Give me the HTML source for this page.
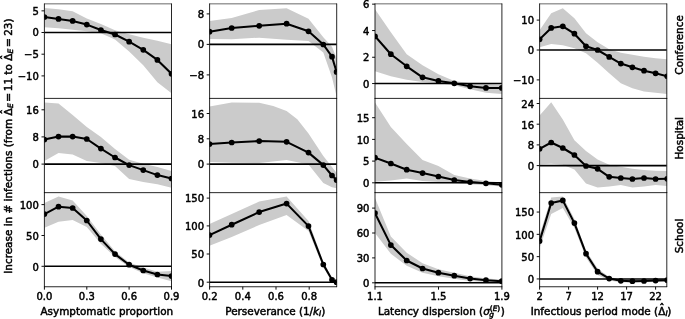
<!DOCTYPE html>
<html><head><meta charset="utf-8"><title>Figure</title>
<style>html,body{margin:0;padding:0;background:#fff}svg{display:block}text{stroke:#000;stroke-width:0.48px}</style>
</head><body>
<svg width="685" height="319" viewBox="0 0 685 319" font-family="'DejaVu Sans','Liberation Sans',sans-serif" font-size="10" fill="#000">
<rect width="685" height="319" fill="#fff"/>
<defs>
<clipPath id="c00"><rect x="44.4" y="3.85" width="127.1" height="94.55"/></clipPath>
<clipPath id="c01"><rect x="209.6" y="3.85" width="127.1" height="94.55"/></clipPath>
<clipPath id="c02"><rect x="375" y="3.85" width="126.9" height="94.55"/></clipPath>
<clipPath id="c03"><rect x="539.6" y="3.85" width="127.2" height="94.55"/></clipPath>
<clipPath id="c10"><rect x="44.4" y="98.4" width="127.1" height="94.25"/></clipPath>
<clipPath id="c11"><rect x="209.6" y="98.4" width="127.1" height="94.25"/></clipPath>
<clipPath id="c12"><rect x="375" y="98.4" width="126.9" height="94.25"/></clipPath>
<clipPath id="c13"><rect x="539.6" y="98.4" width="127.2" height="94.25"/></clipPath>
<clipPath id="c20"><rect x="44.4" y="192.65" width="127.1" height="94.1"/></clipPath>
<clipPath id="c21"><rect x="209.6" y="192.65" width="127.1" height="94.1"/></clipPath>
<clipPath id="c22"><rect x="375" y="192.65" width="126.9" height="94.1"/></clipPath>
<clipPath id="c23"><rect x="539.6" y="192.65" width="127.2" height="94.1"/></clipPath>
</defs>
<g clip-path="url(#c00)">
<polygon fill="#cbcbcb" points="44.4,8 58.52,9.3 72.64,11.2 86.77,18.4 100.89,23.9 115.01,30.2 129.13,34.3 143.25,37.7 157.38,40.8 171.5,44.3 171.5,93.3 157.38,82.3 143.25,65.2 129.13,51.5 115.01,39.6 100.89,33.3 86.77,31.2 72.64,29.7 58.52,28.2 44.4,27.2"/>
<line x1="44.4" x2="171.5" y1="32.5" y2="32.5" stroke="#000" stroke-width="1.6"/>
<polyline fill="none" stroke="#000" stroke-width="2.05" stroke-linejoin="round" points="44.4,17 58.52,18.9 72.64,20.9 86.77,24.6 100.89,30 115.01,34.5 129.13,41.7 143.25,49.8 157.38,59.9 171.5,73.8"/>
<circle cx="44.4" cy="17" r="2.85"/>
<circle cx="58.52" cy="18.9" r="2.85"/>
<circle cx="72.64" cy="20.9" r="2.85"/>
<circle cx="86.77" cy="24.6" r="2.85"/>
<circle cx="100.89" cy="30" r="2.85"/>
<circle cx="115.01" cy="34.5" r="2.85"/>
<circle cx="129.13" cy="41.7" r="2.85"/>
<circle cx="143.25" cy="49.8" r="2.85"/>
<circle cx="157.38" cy="59.9" r="2.85"/>
<circle cx="171.5" cy="73.8" r="2.85"/>
</g>
<line x1="44.4" x2="44.4" y1="3.55" y2="98.7" stroke="#000" stroke-width="0.85"/>
<line x1="171.5" x2="171.5" y1="3.55" y2="98.7" stroke="#000" stroke-width="0.85"/>
<line x1="44.1" x2="171.8" y1="3.85" y2="3.85" stroke="#000" stroke-width="0.6"/>
<line x1="44.1" x2="171.8" y1="98.4" y2="98.4" stroke="#000" stroke-width="0.85"/>
<line x1="41.5" x2="44.4" y1="10.85" y2="10.85" stroke="#000" stroke-width="0.95"/>
<text x="38.8" y="14.65" text-anchor="end">5</text>
<line x1="41.5" x2="44.4" y1="32.5" y2="32.5" stroke="#000" stroke-width="0.95"/>
<text x="38.8" y="36.3" text-anchor="end">0</text>
<line x1="41.5" x2="44.4" y1="54.2" y2="54.2" stroke="#000" stroke-width="0.95"/>
<text x="38.8" y="58" text-anchor="end">−5</text>
<line x1="41.5" x2="44.4" y1="75.9" y2="75.9" stroke="#000" stroke-width="0.95"/>
<text x="38.8" y="79.7" text-anchor="end">−10</text>
<g clip-path="url(#c01)">
<polygon fill="#cbcbcb" points="209.5,21 231.7,18 259.2,10 286.6,8.2 308.5,18.7 323.3,37.2 332,46.8 336.6,58.4 336.6,96.4 332,77.4 323.3,52.6 308.5,40.9 286.6,39.8 259.2,37.7 231.7,39.2 209.5,39"/>
<line x1="209.6" x2="336.7" y1="44.4" y2="44.4" stroke="#000" stroke-width="1.6"/>
<polyline fill="none" stroke="#000" stroke-width="2.05" stroke-linejoin="round" points="209.5,31.7 231.7,28 259.2,25.8 286.6,23.7 308.5,31.3 323.3,44.5 332,56.7 336.6,71.9"/>
<circle cx="209.5" cy="31.7" r="2.85"/>
<circle cx="231.7" cy="28" r="2.85"/>
<circle cx="259.2" cy="25.8" r="2.85"/>
<circle cx="286.6" cy="23.7" r="2.85"/>
<circle cx="308.5" cy="31.3" r="2.85"/>
<circle cx="323.3" cy="44.5" r="2.85"/>
<circle cx="332" cy="56.7" r="2.85"/>
<circle cx="336.6" cy="71.9" r="2.85"/>
</g>
<line x1="209.6" x2="209.6" y1="3.55" y2="98.7" stroke="#000" stroke-width="0.85"/>
<line x1="336.7" x2="336.7" y1="3.55" y2="98.7" stroke="#000" stroke-width="0.85"/>
<line x1="209.3" x2="337" y1="3.85" y2="3.85" stroke="#000" stroke-width="0.6"/>
<line x1="209.3" x2="337" y1="98.4" y2="98.4" stroke="#000" stroke-width="0.85"/>
<line x1="206.7" x2="209.6" y1="13.9" y2="13.9" stroke="#000" stroke-width="0.95"/>
<text x="204" y="17.9" text-anchor="end">8</text>
<line x1="206.7" x2="209.6" y1="44.4" y2="44.4" stroke="#000" stroke-width="0.95"/>
<text x="204" y="48.4" text-anchor="end">0</text>
<line x1="206.7" x2="209.6" y1="74.9" y2="74.9" stroke="#000" stroke-width="0.95"/>
<text x="204" y="78.9" text-anchor="end">−8</text>
<g clip-path="url(#c02)">
<polygon fill="#cbcbcb" points="375,9.2 390.85,32.3 406.7,54.2 422.55,65.3 438.4,74.3 454.25,80.9 470.1,83.3 485.95,83.9 501.8,84.7 501.8,94 485.95,92.8 470.1,89.3 454.25,85.3 438.4,83.3 422.55,81.9 406.7,79.7 390.85,76.3 375,71.3"/>
<line x1="375" x2="501.9" y1="83.55" y2="83.55" stroke="#000" stroke-width="1.6"/>
<polyline fill="none" stroke="#000" stroke-width="2.05" stroke-linejoin="round" points="375,36.3 390.85,54.2 406.7,66.3 422.55,77.3 438.4,80.9 454.25,83.3 470.1,86.3 485.95,87.9 501.8,87.9"/>
<circle cx="375" cy="36.3" r="2.85"/>
<circle cx="390.85" cy="54.2" r="2.85"/>
<circle cx="406.7" cy="66.3" r="2.85"/>
<circle cx="422.55" cy="77.3" r="2.85"/>
<circle cx="438.4" cy="80.9" r="2.85"/>
<circle cx="454.25" cy="83.3" r="2.85"/>
<circle cx="470.1" cy="86.3" r="2.85"/>
<circle cx="485.95" cy="87.9" r="2.85"/>
<circle cx="501.8" cy="87.9" r="2.85"/>
</g>
<line x1="375" x2="375" y1="3.55" y2="98.7" stroke="#000" stroke-width="0.85"/>
<line x1="501.9" x2="501.9" y1="3.55" y2="98.7" stroke="#000" stroke-width="0.85"/>
<line x1="374.7" x2="502.2" y1="3.85" y2="3.85" stroke="#000" stroke-width="0.6"/>
<line x1="374.7" x2="502.2" y1="98.4" y2="98.4" stroke="#000" stroke-width="0.85"/>
<line x1="372.1" x2="375" y1="4.15" y2="4.15" stroke="#000" stroke-width="0.95"/>
<text x="369.4" y="8.15" text-anchor="end">6</text>
<line x1="372.1" x2="375" y1="30.55" y2="30.55" stroke="#000" stroke-width="0.95"/>
<text x="369.4" y="34.55" text-anchor="end">4</text>
<line x1="372.1" x2="375" y1="57.25" y2="57.25" stroke="#000" stroke-width="0.95"/>
<text x="369.4" y="61.25" text-anchor="end">2</text>
<line x1="372.1" x2="375" y1="83.55" y2="83.55" stroke="#000" stroke-width="0.95"/>
<text x="369.4" y="87.55" text-anchor="end">0</text>
<g clip-path="url(#c03)">
<polygon fill="#cbcbcb" points="539.6,30.3 551.2,13.2 562.8,8.2 574.4,18.3 586,33.3 597.6,42.3 609.2,49.2 620.8,52.7 632.4,54.7 644,56.7 655.6,58.3 667.2,59.3 667.2,94 655.6,92.8 644,91.4 632.4,88.3 620.8,83.3 609.2,73.3 597.6,62.8 586,53.3 574.4,48.3 562.8,45.3 551.2,43.9 539.6,47.3"/>
<line x1="539.6" x2="666.8" y1="50" y2="50" stroke="#000" stroke-width="1.6"/>
<polyline fill="none" stroke="#000" stroke-width="2.05" stroke-linejoin="round" points="539.6,39.3 551.2,27.9 562.8,26.3 574.4,33.7 586,46.3 597.6,50 609.2,56.9 620.8,63.6 632.4,67.3 644,70.7 655.6,73.3 667.2,76.3"/>
<circle cx="539.6" cy="39.3" r="2.85"/>
<circle cx="551.2" cy="27.9" r="2.85"/>
<circle cx="562.8" cy="26.3" r="2.85"/>
<circle cx="574.4" cy="33.7" r="2.85"/>
<circle cx="586" cy="46.3" r="2.85"/>
<circle cx="597.6" cy="50" r="2.85"/>
<circle cx="609.2" cy="56.9" r="2.85"/>
<circle cx="620.8" cy="63.6" r="2.85"/>
<circle cx="632.4" cy="67.3" r="2.85"/>
<circle cx="644" cy="70.7" r="2.85"/>
<circle cx="655.6" cy="73.3" r="2.85"/>
<circle cx="667.2" cy="76.3" r="2.85"/>
</g>
<line x1="539.6" x2="539.6" y1="3.55" y2="98.7" stroke="#000" stroke-width="0.85"/>
<line x1="666.8" x2="666.8" y1="3.55" y2="98.7" stroke="#000" stroke-width="0.85"/>
<line x1="539.3" x2="667.1" y1="3.85" y2="3.85" stroke="#000" stroke-width="0.6"/>
<line x1="539.3" x2="667.1" y1="98.4" y2="98.4" stroke="#000" stroke-width="0.85"/>
<line x1="536.7" x2="539.6" y1="20.1" y2="20.1" stroke="#000" stroke-width="0.95"/>
<text x="534" y="24.1" text-anchor="end">10</text>
<line x1="536.7" x2="539.6" y1="50" y2="50" stroke="#000" stroke-width="0.95"/>
<text x="534" y="54" text-anchor="end">0</text>
<line x1="536.7" x2="539.6" y1="79.9" y2="79.9" stroke="#000" stroke-width="0.95"/>
<text x="534" y="83.9" text-anchor="end">−10</text>
<g clip-path="url(#c10)">
<polygon fill="#cbcbcb" points="44.4,102.4 58.52,103.6 72.64,115.1 86.77,127.1 100.89,137 115.01,149.1 129.13,159.7 143.25,163.7 157.38,167.1 171.5,171.1 171.5,187.8 157.38,184.2 143.25,182.1 129.13,179.1 115.01,166.1 100.89,163.1 86.77,161.1 72.64,154.6 58.52,153.1 44.4,161.1"/>
<line x1="44.4" x2="171.5" y1="164.1" y2="164.1" stroke="#000" stroke-width="1.6"/>
<polyline fill="none" stroke="#000" stroke-width="2.05" stroke-linejoin="round" points="44.4,139.6 58.52,136.6 72.64,136.6 86.77,139 100.89,148.6 115.01,157.5 129.13,165.1 143.25,170.1 157.38,175.1 171.5,178.5"/>
<circle cx="44.4" cy="139.6" r="2.85"/>
<circle cx="58.52" cy="136.6" r="2.85"/>
<circle cx="72.64" cy="136.6" r="2.85"/>
<circle cx="86.77" cy="139" r="2.85"/>
<circle cx="100.89" cy="148.6" r="2.85"/>
<circle cx="115.01" cy="157.5" r="2.85"/>
<circle cx="129.13" cy="165.1" r="2.85"/>
<circle cx="143.25" cy="170.1" r="2.85"/>
<circle cx="157.38" cy="175.1" r="2.85"/>
<circle cx="171.5" cy="178.5" r="2.85"/>
</g>
<line x1="44.4" x2="44.4" y1="98.1" y2="192.95" stroke="#000" stroke-width="0.85"/>
<line x1="171.5" x2="171.5" y1="98.1" y2="192.95" stroke="#000" stroke-width="0.85"/>
<line x1="44.1" x2="171.8" y1="192.65" y2="192.65" stroke="#000" stroke-width="0.85"/>
<line x1="41.5" x2="44.4" y1="109.8" y2="109.8" stroke="#000" stroke-width="0.95"/>
<text x="38.8" y="114.1" text-anchor="end">16</text>
<line x1="41.5" x2="44.4" y1="136.9" y2="136.9" stroke="#000" stroke-width="0.95"/>
<text x="38.8" y="141.2" text-anchor="end">8</text>
<line x1="41.5" x2="44.4" y1="164.1" y2="164.1" stroke="#000" stroke-width="0.95"/>
<text x="38.8" y="168.4" text-anchor="end">0</text>
<g clip-path="url(#c11)">
<polygon fill="#cbcbcb" points="209.5,106.4 231.7,102.4 259.2,102.8 273.2,106 286.6,111.1 297.3,119.3 308.5,133.5 323.3,156.1 332,167.1 336.6,173.1 336.6,188.2 332,187.2 323.3,183.1 308.5,164.5 286.6,160.1 259.2,163.1 231.7,162.7 209.5,162.1"/>
<line x1="209.6" x2="336.7" y1="164.1" y2="164.1" stroke="#000" stroke-width="1.6"/>
<polyline fill="none" stroke="#000" stroke-width="2.05" stroke-linejoin="round" points="209.5,144.1 231.7,142.5 259.2,141.1 286.6,141.8 308.5,152.6 323.3,165.1 332,175.5 336.6,180.1"/>
<circle cx="209.5" cy="144.1" r="2.85"/>
<circle cx="231.7" cy="142.5" r="2.85"/>
<circle cx="259.2" cy="141.1" r="2.85"/>
<circle cx="286.6" cy="141.8" r="2.85"/>
<circle cx="308.5" cy="152.6" r="2.85"/>
<circle cx="323.3" cy="165.1" r="2.85"/>
<circle cx="332" cy="175.5" r="2.85"/>
<circle cx="336.6" cy="180.1" r="2.85"/>
</g>
<line x1="209.6" x2="209.6" y1="98.1" y2="192.95" stroke="#000" stroke-width="0.85"/>
<line x1="336.7" x2="336.7" y1="98.1" y2="192.95" stroke="#000" stroke-width="0.85"/>
<line x1="209.3" x2="337" y1="192.65" y2="192.65" stroke="#000" stroke-width="0.85"/>
<line x1="206.7" x2="209.6" y1="113.5" y2="113.5" stroke="#000" stroke-width="0.95"/>
<text x="204" y="117.8" text-anchor="end">16</text>
<line x1="206.7" x2="209.6" y1="138.8" y2="138.8" stroke="#000" stroke-width="0.95"/>
<text x="204" y="143.1" text-anchor="end">8</text>
<line x1="206.7" x2="209.6" y1="164.1" y2="164.1" stroke="#000" stroke-width="0.95"/>
<text x="204" y="168.4" text-anchor="end">0</text>
<g clip-path="url(#c12)">
<polygon fill="#cbcbcb" points="375,102.4 390.85,127.1 406.7,144.1 422.55,160.1 438.4,166.1 454.25,175.1 470.1,178.5 485.95,181.1 501.8,182.5 501.8,186.6 485.95,185.2 470.1,184.2 454.25,183.1 438.4,182.1 422.55,181.1 406.7,178.5 390.85,180.5 375,181.7"/>
<line x1="375" x2="501.9" y1="182.8" y2="182.8" stroke="#000" stroke-width="1.6"/>
<polyline fill="none" stroke="#000" stroke-width="2.05" stroke-linejoin="round" points="375,157.7 390.85,163.5 406.7,169.7 422.55,173.1 438.4,176.5 454.25,180.1 470.1,182.1 485.95,183.3 501.8,184.8"/>
<circle cx="375" cy="157.7" r="2.85"/>
<circle cx="390.85" cy="163.5" r="2.85"/>
<circle cx="406.7" cy="169.7" r="2.85"/>
<circle cx="422.55" cy="173.1" r="2.85"/>
<circle cx="438.4" cy="176.5" r="2.85"/>
<circle cx="454.25" cy="180.1" r="2.85"/>
<circle cx="470.1" cy="182.1" r="2.85"/>
<circle cx="485.95" cy="183.3" r="2.85"/>
<circle cx="501.8" cy="184.8" r="2.85"/>
</g>
<line x1="375" x2="375" y1="98.1" y2="192.95" stroke="#000" stroke-width="0.85"/>
<line x1="501.9" x2="501.9" y1="98.1" y2="192.95" stroke="#000" stroke-width="0.85"/>
<line x1="374.7" x2="502.2" y1="192.65" y2="192.65" stroke="#000" stroke-width="0.85"/>
<line x1="372.1" x2="375" y1="117.7" y2="117.7" stroke="#000" stroke-width="0.95"/>
<text x="369.4" y="122" text-anchor="end">15</text>
<line x1="372.1" x2="375" y1="139.4" y2="139.4" stroke="#000" stroke-width="0.95"/>
<text x="369.4" y="143.7" text-anchor="end">10</text>
<line x1="372.1" x2="375" y1="161.1" y2="161.1" stroke="#000" stroke-width="0.95"/>
<text x="369.4" y="165.4" text-anchor="end">5</text>
<line x1="372.1" x2="375" y1="182.8" y2="182.8" stroke="#000" stroke-width="0.95"/>
<text x="369.4" y="187.1" text-anchor="end">0</text>
<g clip-path="url(#c13)">
<polygon fill="#cbcbcb" points="539.6,115.4 551.2,102.3 562.8,119.4 574.4,140.3 586,151 597.6,159.4 609.2,164.8 620.8,166.8 632.4,168.8 644,170 655.6,170.8 667.2,171 667.2,185.9 655.6,184.9 644,186.5 632.4,187.5 620.8,184.9 609.2,186.5 597.6,187.5 586,183.4 574.4,169.4 562.8,164.8 551.2,163.8 539.6,164.3"/>
<line x1="539.6" x2="666.8" y1="165.6" y2="165.6" stroke="#000" stroke-width="1.6"/>
<polyline fill="none" stroke="#000" stroke-width="2.05" stroke-linejoin="round" points="539.6,148.8 551.2,142.5 562.8,148 574.4,155 586,166 597.6,168.8 609.2,176.8 620.8,178 632.4,179 644,178 655.6,179 667.2,178.8"/>
<circle cx="539.6" cy="148.8" r="2.85"/>
<circle cx="551.2" cy="142.5" r="2.85"/>
<circle cx="562.8" cy="148" r="2.85"/>
<circle cx="574.4" cy="155" r="2.85"/>
<circle cx="586" cy="166" r="2.85"/>
<circle cx="597.6" cy="168.8" r="2.85"/>
<circle cx="609.2" cy="176.8" r="2.85"/>
<circle cx="620.8" cy="178" r="2.85"/>
<circle cx="632.4" cy="179" r="2.85"/>
<circle cx="644" cy="178" r="2.85"/>
<circle cx="655.6" cy="179" r="2.85"/>
<circle cx="667.2" cy="178.8" r="2.85"/>
</g>
<line x1="539.6" x2="539.6" y1="98.1" y2="192.95" stroke="#000" stroke-width="0.85"/>
<line x1="666.8" x2="666.8" y1="98.1" y2="192.95" stroke="#000" stroke-width="0.85"/>
<line x1="539.3" x2="667.1" y1="192.65" y2="192.65" stroke="#000" stroke-width="0.85"/>
<line x1="536.7" x2="539.6" y1="103.5" y2="103.5" stroke="#000" stroke-width="0.95"/>
<text x="534" y="107.8" text-anchor="end">24</text>
<line x1="536.7" x2="539.6" y1="124.2" y2="124.2" stroke="#000" stroke-width="0.95"/>
<text x="534" y="128.5" text-anchor="end">16</text>
<line x1="536.7" x2="539.6" y1="144.9" y2="144.9" stroke="#000" stroke-width="0.95"/>
<text x="534" y="149.2" text-anchor="end">8</text>
<line x1="536.7" x2="539.6" y1="165.6" y2="165.6" stroke="#000" stroke-width="0.95"/>
<text x="534" y="169.9" text-anchor="end">0</text>
<g clip-path="url(#c20)">
<polygon fill="#cbcbcb" points="44.4,203 58.52,196.4 72.64,200.4 86.77,216.1 100.89,234.6 115.01,251.3 129.13,262.5 143.25,267.6 157.38,271.8 171.5,271.1 171.5,281.2 157.38,277.6 143.25,273.2 129.13,267 115.01,257 100.89,243.8 86.77,227.1 72.64,220.1 58.52,221.7 44.4,227.7"/>
<line x1="44.4" x2="171.5" y1="266.3" y2="266.3" stroke="#000" stroke-width="1.6"/>
<polyline fill="none" stroke="#000" stroke-width="2.05" stroke-linejoin="round" points="44.4,214.1 58.52,206.7 72.64,208 86.77,220.5 100.89,239.1 115.01,254.1 129.13,264.7 143.25,270.5 157.38,274.5 171.5,276.1"/>
<circle cx="44.4" cy="214.1" r="2.85"/>
<circle cx="58.52" cy="206.7" r="2.85"/>
<circle cx="72.64" cy="208" r="2.85"/>
<circle cx="86.77" cy="220.5" r="2.85"/>
<circle cx="100.89" cy="239.1" r="2.85"/>
<circle cx="115.01" cy="254.1" r="2.85"/>
<circle cx="129.13" cy="264.7" r="2.85"/>
<circle cx="143.25" cy="270.5" r="2.85"/>
<circle cx="157.38" cy="274.5" r="2.85"/>
<circle cx="171.5" cy="276.1" r="2.85"/>
</g>
<line x1="44.4" x2="44.4" y1="192.35" y2="287.05" stroke="#000" stroke-width="0.85"/>
<line x1="171.5" x2="171.5" y1="192.35" y2="287.05" stroke="#000" stroke-width="0.85"/>
<line x1="44.1" x2="171.8" y1="286.75" y2="286.75" stroke="#000" stroke-width="0.85"/>
<line x1="41.5" x2="44.4" y1="204.6" y2="204.6" stroke="#000" stroke-width="0.95"/>
<text x="38.8" y="208.9" text-anchor="end">100</text>
<line x1="41.5" x2="44.4" y1="235.5" y2="235.5" stroke="#000" stroke-width="0.95"/>
<text x="38.8" y="239.8" text-anchor="end">50</text>
<line x1="41.5" x2="44.4" y1="266.3" y2="266.3" stroke="#000" stroke-width="0.95"/>
<text x="38.8" y="270.6" text-anchor="end">0</text>
<line x1="44.4" x2="44.4" y1="286.75" y2="289.65" stroke="#000" stroke-width="0.95"/>
<text x="44.4" y="299.6" text-anchor="middle">0.0</text>
<line x1="86.8" x2="86.8" y1="286.75" y2="289.65" stroke="#000" stroke-width="0.95"/>
<text x="86.8" y="299.6" text-anchor="middle">0.3</text>
<line x1="129.1" x2="129.1" y1="286.75" y2="289.65" stroke="#000" stroke-width="0.95"/>
<text x="129.1" y="299.6" text-anchor="middle">0.6</text>
<line x1="171.5" x2="171.5" y1="286.75" y2="289.65" stroke="#000" stroke-width="0.95"/>
<text x="171.5" y="299.6" text-anchor="middle">0.9</text>
<g clip-path="url(#c21)">
<polygon fill="#cbcbcb" points="209.5,224.1 231.7,214.1 259.2,201.6 286.6,196.4 308.5,221.1 323.3,261.5 332,278 336.6,281.5 336.6,283 332,281.5 323.3,267.5 308.5,231.1 286.6,215.1 259.2,225.1 231.7,237.1 209.5,245.8"/>
<line x1="209.6" x2="336.7" y1="282.2" y2="282.2" stroke="#000" stroke-width="1.6"/>
<polyline fill="none" stroke="#000" stroke-width="2.05" stroke-linejoin="round" points="209.5,235.1 231.7,224.7 259.2,212.1 286.6,203.6 308.5,226.1 323.3,264.5 332,279.8 336.6,282.2"/>
<circle cx="209.5" cy="235.1" r="2.85"/>
<circle cx="231.7" cy="224.7" r="2.85"/>
<circle cx="259.2" cy="212.1" r="2.85"/>
<circle cx="286.6" cy="203.6" r="2.85"/>
<circle cx="308.5" cy="226.1" r="2.85"/>
<circle cx="323.3" cy="264.5" r="2.85"/>
<circle cx="332" cy="279.8" r="2.85"/>
<circle cx="336.6" cy="282.2" r="2.85"/>
</g>
<line x1="209.6" x2="209.6" y1="192.35" y2="287.05" stroke="#000" stroke-width="0.85"/>
<line x1="336.7" x2="336.7" y1="192.35" y2="287.05" stroke="#000" stroke-width="0.85"/>
<line x1="209.3" x2="337" y1="286.75" y2="286.75" stroke="#000" stroke-width="0.85"/>
<line x1="206.7" x2="209.6" y1="198.1" y2="198.1" stroke="#000" stroke-width="0.95"/>
<text x="204" y="202.4" text-anchor="end">150</text>
<line x1="206.7" x2="209.6" y1="225.9" y2="225.9" stroke="#000" stroke-width="0.95"/>
<text x="204" y="230.2" text-anchor="end">100</text>
<line x1="206.7" x2="209.6" y1="254" y2="254" stroke="#000" stroke-width="0.95"/>
<text x="204" y="258.3" text-anchor="end">50</text>
<line x1="206.7" x2="209.6" y1="282.2" y2="282.2" stroke="#000" stroke-width="0.95"/>
<text x="204" y="286.5" text-anchor="end">0</text>
<line x1="209.6" x2="209.6" y1="286.75" y2="289.65" stroke="#000" stroke-width="0.95"/>
<text x="209.6" y="299.6" text-anchor="middle">0.2</text>
<line x1="242.8" x2="242.8" y1="286.75" y2="289.65" stroke="#000" stroke-width="0.95"/>
<text x="242.8" y="299.6" text-anchor="middle">0.4</text>
<line x1="276" x2="276" y1="286.75" y2="289.65" stroke="#000" stroke-width="0.95"/>
<text x="276" y="299.6" text-anchor="middle">0.6</text>
<line x1="309.2" x2="309.2" y1="286.75" y2="289.65" stroke="#000" stroke-width="0.95"/>
<text x="309.2" y="299.6" text-anchor="middle">0.8</text>
<g clip-path="url(#c22)">
<polygon fill="#cbcbcb" points="375,198 390.85,236.6 406.7,252.7 422.55,263.3 438.4,269.3 454.25,272.8 470.1,276.2 485.95,278.4 501.8,279.6 501.8,282.8 485.95,282 470.1,280.9 454.25,278.7 438.4,276.3 422.55,272.8 406.7,265.8 390.85,253.8 375,233.1"/>
<line x1="375" x2="501.9" y1="282.8" y2="282.8" stroke="#000" stroke-width="1.6"/>
<polyline fill="none" stroke="#000" stroke-width="2.05" stroke-linejoin="round" points="375,213.1 390.85,245.1 406.7,260.5 422.55,268.5 438.4,272.7 454.25,275.7 470.1,278.6 485.95,280.2 501.8,281.2"/>
<circle cx="375" cy="213.1" r="2.85"/>
<circle cx="390.85" cy="245.1" r="2.85"/>
<circle cx="406.7" cy="260.5" r="2.85"/>
<circle cx="422.55" cy="268.5" r="2.85"/>
<circle cx="438.4" cy="272.7" r="2.85"/>
<circle cx="454.25" cy="275.7" r="2.85"/>
<circle cx="470.1" cy="278.6" r="2.85"/>
<circle cx="485.95" cy="280.2" r="2.85"/>
<circle cx="501.8" cy="281.2" r="2.85"/>
</g>
<line x1="375" x2="375" y1="192.35" y2="287.05" stroke="#000" stroke-width="0.85"/>
<line x1="501.9" x2="501.9" y1="192.35" y2="287.05" stroke="#000" stroke-width="0.85"/>
<line x1="374.7" x2="502.2" y1="286.75" y2="286.75" stroke="#000" stroke-width="0.85"/>
<line x1="372.1" x2="375" y1="208.1" y2="208.1" stroke="#000" stroke-width="0.95"/>
<text x="369.4" y="212.4" text-anchor="end">90</text>
<line x1="372.1" x2="375" y1="233" y2="233" stroke="#000" stroke-width="0.95"/>
<text x="369.4" y="237.3" text-anchor="end">60</text>
<line x1="372.1" x2="375" y1="257.9" y2="257.9" stroke="#000" stroke-width="0.95"/>
<text x="369.4" y="262.2" text-anchor="end">30</text>
<line x1="372.1" x2="375" y1="282.8" y2="282.8" stroke="#000" stroke-width="0.95"/>
<text x="369.4" y="287.1" text-anchor="end">0</text>
<line x1="375" x2="375" y1="286.75" y2="289.65" stroke="#000" stroke-width="0.95"/>
<text x="375" y="299.6" text-anchor="middle">1.1</text>
<line x1="438.5" x2="438.5" y1="286.75" y2="289.65" stroke="#000" stroke-width="0.95"/>
<text x="438.5" y="299.6" text-anchor="middle">1.5</text>
<line x1="501.9" x2="501.9" y1="286.75" y2="289.65" stroke="#000" stroke-width="0.95"/>
<text x="501.9" y="299.6" text-anchor="middle">1.9</text>
<g clip-path="url(#c23)">
<polygon fill="#cbcbcb" points="539.6,235 551.2,197.6 562.8,196.4 574.4,219 586,250.5 597.6,268.5 609.2,277 620.8,279.3 632.4,279.8 644,279.8 655.6,279.3 667.2,278.8 667.2,281.8 655.6,282 644,282.3 632.4,282.8 620.8,282.3 609.2,280.5 597.6,275 586,257.5 574.4,228 562.8,208.1 551.2,214.1 539.6,248"/>
<line x1="539.6" x2="666.8" y1="278.95" y2="278.95" stroke="#000" stroke-width="1.6"/>
<polyline fill="none" stroke="#000" stroke-width="2.05" stroke-linejoin="round" points="539.6,241.1 551.2,203 562.8,200.4 574.4,223.1 586,253.7 597.6,271.7 609.2,278.6 620.8,280.8 632.4,281.2 644,281 655.6,280.6 667.2,280.2"/>
<circle cx="539.6" cy="241.1" r="2.85"/>
<circle cx="551.2" cy="203" r="2.85"/>
<circle cx="562.8" cy="200.4" r="2.85"/>
<circle cx="574.4" cy="223.1" r="2.85"/>
<circle cx="586" cy="253.7" r="2.85"/>
<circle cx="597.6" cy="271.7" r="2.85"/>
<circle cx="609.2" cy="278.6" r="2.85"/>
<circle cx="620.8" cy="280.8" r="2.85"/>
<circle cx="632.4" cy="281.2" r="2.85"/>
<circle cx="644" cy="281" r="2.85"/>
<circle cx="655.6" cy="280.6" r="2.85"/>
<circle cx="667.2" cy="280.2" r="2.85"/>
</g>
<line x1="539.6" x2="539.6" y1="192.35" y2="287.05" stroke="#000" stroke-width="0.85"/>
<line x1="666.8" x2="666.8" y1="192.35" y2="287.05" stroke="#000" stroke-width="0.85"/>
<line x1="539.3" x2="667.1" y1="286.75" y2="286.75" stroke="#000" stroke-width="0.85"/>
<line x1="536.7" x2="539.6" y1="212.05" y2="212.05" stroke="#000" stroke-width="0.95"/>
<text x="534" y="216.35" text-anchor="end">150</text>
<line x1="536.7" x2="539.6" y1="234.35" y2="234.35" stroke="#000" stroke-width="0.95"/>
<text x="534" y="238.65" text-anchor="end">100</text>
<line x1="536.7" x2="539.6" y1="256.65" y2="256.65" stroke="#000" stroke-width="0.95"/>
<text x="534" y="260.95" text-anchor="end">50</text>
<line x1="536.7" x2="539.6" y1="278.95" y2="278.95" stroke="#000" stroke-width="0.95"/>
<text x="534" y="283.25" text-anchor="end">0</text>
<line x1="539.6" x2="539.6" y1="286.75" y2="289.65" stroke="#000" stroke-width="0.95"/>
<text x="539.6" y="299.6" text-anchor="middle">2</text>
<line x1="568.6" x2="568.6" y1="286.75" y2="289.65" stroke="#000" stroke-width="0.95"/>
<text x="568.6" y="299.6" text-anchor="middle">7</text>
<line x1="597.6" x2="597.6" y1="286.75" y2="289.65" stroke="#000" stroke-width="0.95"/>
<text x="597.6" y="299.6" text-anchor="middle">12</text>
<line x1="626.6" x2="626.6" y1="286.75" y2="289.65" stroke="#000" stroke-width="0.95"/>
<text x="626.6" y="299.6" text-anchor="middle">17</text>
<line x1="655.6" x2="655.6" y1="286.75" y2="289.65" stroke="#000" stroke-width="0.95"/>
<text x="655.6" y="299.6" text-anchor="middle">22</text>
<text x="106.8" y="314.7" text-anchor="middle" font-size="10.42">Asymptomatic proportion</text>
<text x="275.3" y="314.7" text-anchor="middle" font-size="10.42">Perseverance (1/<tspan font-style="italic">k</tspan><tspan font-style="italic" font-size="7.4" dy="1.6">I</tspan><tspan dy="-1.6">)</tspan></text>
<text x="441.3" y="314.7" text-anchor="middle" font-size="10.42">Latency dispersion (<tspan font-style="italic">σ</tspan><tspan font-style="italic" font-size="7.4" dy="2.55" dx="-0.5">g</tspan><tspan font-size="7.4" dy="-5.85" dx="-4.2">(<tspan font-style="italic">E</tspan>)</tspan><tspan dy="3.3" dx="0.4">)</tspan></text>
<text x="530.7" y="314.7" font-size="10.42">Infectious period mode (Δ</text>
<text x="659.24" y="311.7" font-size="10.6">ˆ</text>
<text x="665.55" y="315.7" font-size="7.4" font-style="italic">I</text>
<text x="667.2" y="314.7" font-size="10.42">)</text>
<g transform="translate(11.7,273.8) rotate(-90)"><text x="0" y="0" font-size="10.45">Increase in # infections (from</text><text x="158.4" y="0" font-size="10.45">Δ</text><text x="159.32" y="-3" font-size="10.6">ˆ</text><text x="165.7" y="1.25" font-size="7.4" font-style="italic">E</text><text x="213" y="0" font-size="10.45">Δ</text><text x="213.92" y="-3" font-size="10.6">ˆ</text><text x="220.3" y="1.25" font-size="7.4" font-style="italic">E</text><text x="172" y="0" font-size="10.45">=</text><text x="182.55" y="0" font-size="10.45">11 to</text><text x="226.8" y="0" font-size="10.45">=</text><text x="238" y="0" font-size="10.45">23)</text></g>
<text transform="translate(683.0,44.9) rotate(-90)" text-anchor="middle" font-size="10.42">Conference</text>
<text transform="translate(683.0,138.25) rotate(-90)" text-anchor="middle" font-size="10.42">Hospital</text>
<text transform="translate(683.0,235.95) rotate(-90)" text-anchor="middle" font-size="10.42">School</text>
</svg>
</body></html>
